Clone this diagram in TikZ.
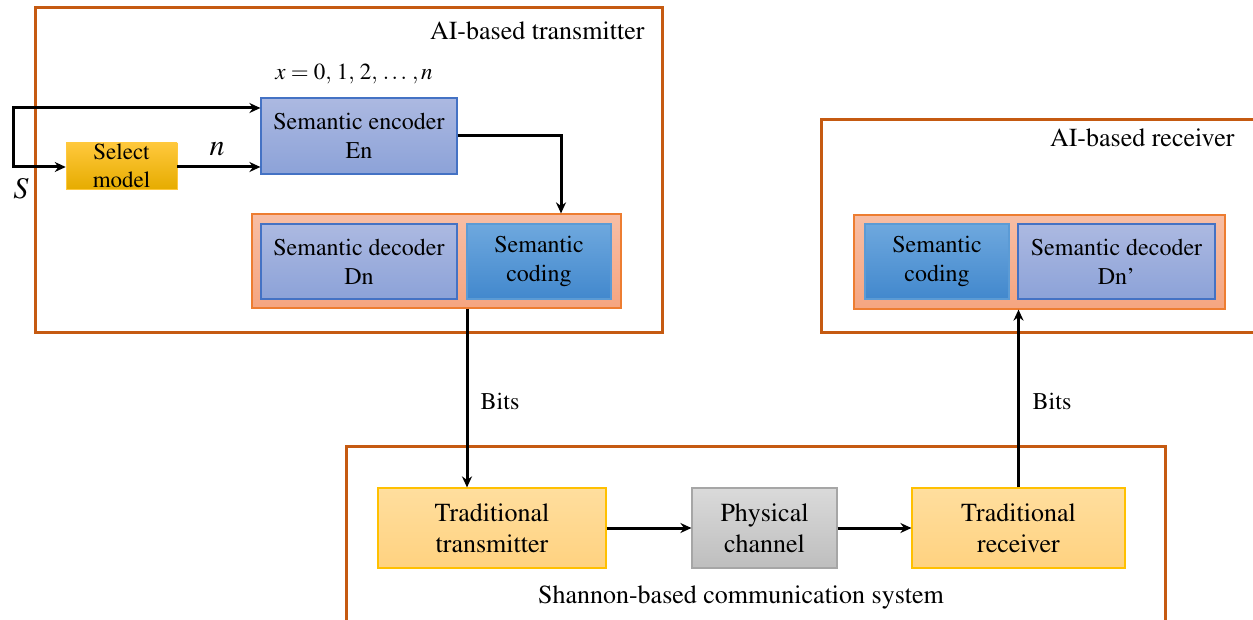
\documentclass[tikz,border=0pt]{standalone}
\usepackage[T1]{fontenc}
\usepackage{mathptmx}
\usetikzlibrary{arrows.meta}
\definecolor{frame}{RGB}{197,90,17}
\definecolor{encTop}{RGB}{172,185,225}
\definecolor{encBot}{RGB}{140,162,216}
\definecolor{encLine}{RGB}{68,114,196}
\definecolor{codTop}{RGB}{110,168,222}
\definecolor{codBot}{RGB}{66,136,205}
\definecolor{codLine}{RGB}{91,155,213}
\definecolor{grpTop}{RGB}{247,190,165}
\definecolor{grpBot}{RGB}{245,165,128}
\definecolor{grpLine}{RGB}{237,125,49}
\definecolor{selTop}{RGB}{255,200,60}
\definecolor{selBot}{RGB}{230,172,0}
\definecolor{trdTop}{RGB}{255,222,158}
\definecolor{trdBot}{RGB}{255,210,128}
\definecolor{trdLine}{RGB}{255,192,0}
\definecolor{phyTop}{RGB}{218,218,218}
\definecolor{phyBot}{RGB}{190,190,190}
\definecolor{phyLine}{RGB}{166,166,166}
\begin{document}
\begin{tikzpicture}[x=1pt,y=-1pt,
  txt/.style={font=\fontsize{24}{29}\selectfont},
  bigtxt/.style={font=\fontsize{26}{31}\selectfont},
  encbox/.style={draw=encLine,line width=1.2pt,top color=encTop,bottom color=encBot,align=center,inner sep=0pt,txt},
  codbox/.style={draw=codLine,line width=1.2pt,top color=codTop,bottom color=codBot,align=center,inner sep=0pt,txt},
  grpbox/.style={draw=grpLine,line width=1.2pt,top color=grpTop,bottom color=grpBot,inner sep=0pt},
  selbox/.style={top color=selTop,bottom color=selBot,draw=selTop,line width=0.5pt,align=center,inner sep=0pt,txt},
  trdbox/.style={draw=trdLine,line width=1.2pt,top color=trdTop,bottom color=trdBot,align=center,inner sep=0pt,bigtxt},
  phybox/.style={draw=phyLine,line width=1.2pt,top color=phyTop,bottom color=phyBot,align=center,inner sep=0pt,bigtxt},
  framebox/.style={draw=frame,line width=3pt},
  conn/.style={draw=black,line width=3pt,-{Stealth[length=11pt,width=10pt]}},
  plain/.style={draw=black,line width=3pt}
]
\clip (0,0) rectangle (1253,620);
\fill[white] (0,0) rectangle (1253,620);

% outer frames
\draw[framebox] (35,8) rectangle (662,333);
\draw[framebox] (821,120) rectangle (1270,333);
\draw[framebox] (346,446) rectangle (1165,640);

\node[bigtxt,anchor=base east] (ttl1) at (648,40) {AI-based transmitter};
\node[bigtxt,anchor=base east] (ttl2) at (1238,147) {AI-based receiver};
\node[bigtxt,anchor=base] (ttl3) at (741,603) {Shannon-based communication system};

% transmitter
\node[font=\fontsize{23}{28}\selectfont] (xlab) at (354,74) {$x=0,\,1,\,2,\,\ldots\,,n$};
\node[encbox,minimum width=196pt,minimum height=76pt] (enc) at (359,136) {Semantic encoder\\En};
\node[selbox,minimum width=111pt,minimum height=46pt,font=\fontsize{23}{28}\selectfont] (sel) at (121.5,166) {Select\\model};
\node[grpbox,minimum width=369pt,minimum height=94pt] (txg) at (436.5,261) {};
\node[encbox,minimum width=196pt,minimum height=75pt] (dn) at (359,261.5) {Semantic decoder\\Dn};
\node[codbox,minimum width=144pt,minimum height=75pt] (txc) at (539,261.5) {Semantic\\coding};

\node[font=\fontsize{30}{32}\selectfont] (slab) at (21,189) {$S$};
\node[font=\fontsize{30}{32}\selectfont] (nlab) at (217,149) {$n$};

\coordinate (sT) at (13,108);
\coordinate (sB) at (13,167);
\coordinate (bx) at (467,0);
\coordinate (ex) at (561,0);
\draw[plain] (13,106.5) -- (13,168.5);
\draw[conn] (sT) -- (enc.west |- sT);
\draw[conn] (sB) -- (sel.west |- sB);
\draw[conn] (sel.east |- sB) -- (enc.west |- sB);
\draw[conn] (enc.east) -| (ex |- txg.north);

% receiver
\node[grpbox,minimum width=371pt,minimum height=94pt] (rxg) at (1039.5,262) {};
\node[codbox,minimum width=144pt,minimum height=75pt] (rxc) at (937,261.5) {Semantic\\coding};
\node[encbox,minimum width=197pt,minimum height=75pt] (rdn) at (1116.5,261.5) {Semantic decoder\\Dn'};

% Shannon system
\node[trdbox,minimum width=228pt,minimum height=80pt] (ttx) at (492,528) {Traditional\\transmitter};
\node[phybox,minimum width=145pt,minimum height=80pt] (phy) at (764.5,528) {Physical\\channel};
\node[trdbox,minimum width=213pt,minimum height=80pt] (trx) at (1018.5,528) {Traditional\\receiver};

\draw[conn] (bx |- txg.south) -- (bx |- ttx.north);
\node[txt] (bits1) at (500,401) {Bits};
\draw[conn] (trx.north) -- (trx.north |- rxg.south);
\node[txt] (bits2) at (1052,401) {Bits};
\draw[conn] (ttx.east) -- (phy.west);
\draw[conn] (phy.east) -- (trx.west);
\end{tikzpicture}
\end{document}
